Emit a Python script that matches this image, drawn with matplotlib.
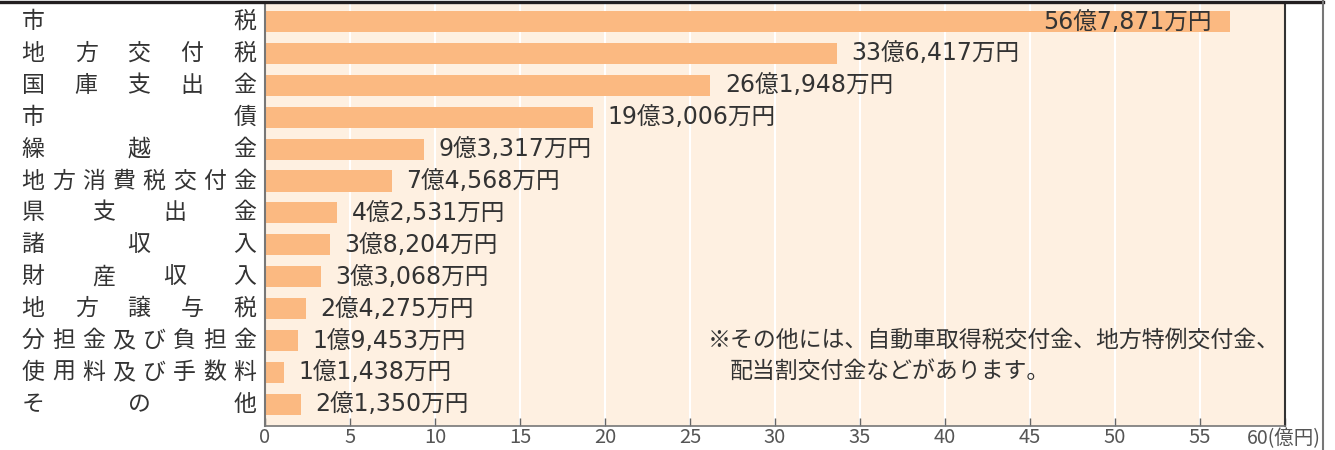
import matplotlib
matplotlib.use("Agg")
import matplotlib.pyplot as plt
from matplotlib.transforms import blended_transform_factory
from matplotlib.lines import Line2D

plt.rcParams['font.family'] = ['Noto Sans CJK JP', 'DejaVu Sans']

# Data (values in 万円)
categories = ["市税", "地方交付税", "国庫支出金", "市債", "繰越金", "地方消費税交付金",
              "県支出金", "諸収入", "財産収入", "地方譲与税", "分担金及び負担金",
              "使用料及び手数料", "その他"]
values_man = [567871, 336417, 261948, 193006, 93317, 74568,
              42531, 38204, 33068, 24275, 19453, 11438, 21350]
xticks = list(range(0, 61, 5))
note_lines = ["※その他には、自動車取得税交付金、地方特例交付金、",
              "配当割交付金などがあります。"]

bar_color = "#FBB981"
bg_color = "#FEF0E1"
text_color = "#333333"
value_font = ['DejaVu Sans', 'Noto Sans CJK JP']

W, H = 1335, 450
fig = plt.figure(figsize=(W / 100, H / 100), dpi=100)
ax = fig.add_axes([265 / W, 1 - 426 / H, (1285 - 265) / W, (426 - 3) / H])
ax.set_facecolor(bg_color)

values_oku = [v / 10000 for v in values_man]
ypos = list(range(len(categories)))

for x in xticks[1:-1]:
    ax.axvline(x, color="white", lw=1.5, zorder=0)

ax.barh(ypos, values_oku, height=0.66, color=bar_color, zorder=2)


def fmt(v):
    oku, man = divmod(v, 10000)
    return f"{oku}億{man:,}万円"


for y, v, vo in zip(ypos, values_man, values_oku):
    if vo > 50:
        ax.text(vo - 1.1, y, fmt(v), ha="right", va="center", family=value_font,
                fontsize=17, color=text_color, zorder=3)
    else:
        ax.text(vo + 0.85, y, fmt(v), ha="left", va="center", family=value_font,
                fontsize=17, color=text_color, zorder=3)

ax.set_xlim(0, 60)
ax.set_ylim(12.68, -0.58)
ax.set_yticks([])
ax.set_xticks(xticks)
ax.set_xticklabels([str(t) for t in xticks[:-1]] + [""], fontsize=14.5, color="#555555")
ax.tick_params(axis="x", direction="in", length=6, width=1, color="#666666", pad=1)
fig.text(1321 / W, 1 - 428 / H, "60(億円)", ha="right", va="top", fontsize=14, color="#555555")

ax.spines["top"].set_visible(False)
ax.spines["left"].set_color("#777777")
ax.spines["left"].set_linewidth(1.5)
ax.spines["bottom"].set_color("#777777")
ax.spines["bottom"].set_linewidth(1.2)
ax.spines["right"].set_color("#333333")
ax.spines["right"].set_linewidth(1.5)

# Distributed category labels
trans = blended_transform_factory(fig.transFigure, ax.transData)
x0, x1 = 33, 245
for y, name in zip(ypos, categories):
    n = len(name)
    for i, ch in enumerate(name):
        px = x0 + i * (x1 - x0) / (n - 1)
        ax.text(px / W, y, ch, transform=trans, ha="center", va="center",
                fontsize=16.5, color=text_color)

# Note
ax.text(708 / W, 10.0, note_lines[0], transform=trans, ha="left", va="center",
        fontsize=16.5, color=text_color)
ax.text(730 / W, 11.0, note_lines[1], transform=trans, ha="left", va="center",
        fontsize=16.5, color=text_color)

# Frame decorations
fig.add_artist(Line2D([0, 1323 / W], [1 - 1.5 / H, 1 - 1.5 / H], transform=fig.transFigure,
                      color="#231F20", lw=2.4))
fig.add_artist(Line2D([1322.5 / W, 1322.5 / W], [0, 1], transform=fig.transFigure,
                      color="#777777", lw=1.5))

fig.savefig("out.png", dpi=100)
